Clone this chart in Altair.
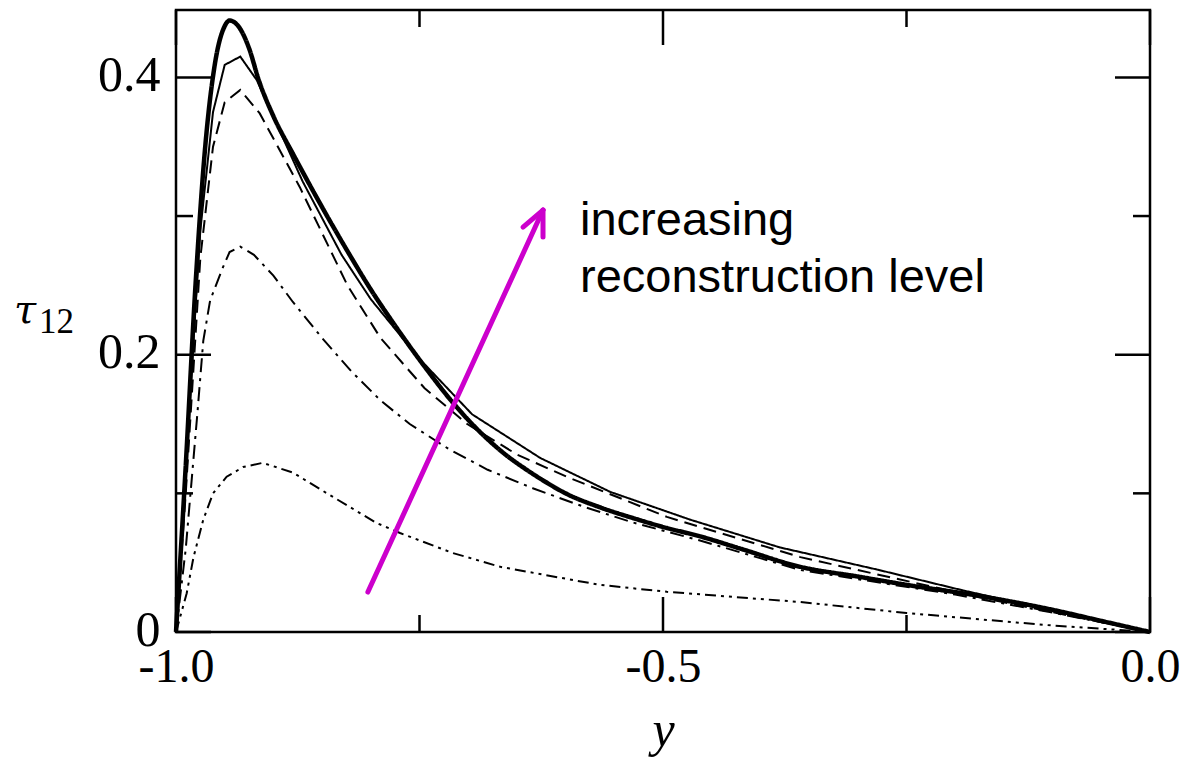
import altair as alt
import pandas as pd

# ---- data ----
thick_x = [-1.0, -0.99, -0.98, -0.97, -0.96, -0.95, -0.945, -0.935, -0.925, -0.915, -0.90, -0.88,
           -0.86, -0.84, -0.82, -0.80, -0.78, -0.76, -0.74, -0.72, -0.70, -0.68, -0.66, -0.64,
           -0.62, -0.60, -0.565, -0.53, -0.496, -0.462, -0.42, -0.359, -0.30, -0.25, -0.175,
           -0.10, -0.05, 0.0]
thick_y = [0.0, 0.12, 0.25, 0.35, 0.41, 0.437, 0.441, 0.436, 0.421, 0.398, 0.372, 0.345,
           0.319, 0.294, 0.270, 0.247, 0.226, 0.206, 0.187, 0.169, 0.153, 0.139, 0.127, 0.117,
           0.108, 0.100, 0.090, 0.082, 0.075, 0.069, 0.060, 0.047, 0.040, 0.034, 0.026,
           0.016, 0.008, 0.0]

thin_x = [-1.0, -0.99, -0.975, -0.962, -0.95, -0.934, -0.917, -0.87, -0.83, -0.80, -0.75, -0.696,
          -0.626, -0.554, -0.472, -0.38, -0.28, -0.192, -0.10, 0.0]
thin_y = [0.0, 0.12, 0.29, 0.375, 0.409, 0.415, 0.398, 0.325, 0.272, 0.240, 0.197, 0.157,
          0.1255, 0.101, 0.081, 0.061, 0.045, 0.030, 0.0155, 0.0]

dash_x = [-1.0, -0.99, -0.975, -0.962, -0.95, -0.934, -0.914, -0.873, -0.824, -0.79, -0.745, -0.701,
          -0.65, -0.599, -0.496, -0.359, -0.175, 0.0]
dash_y = [0.0, 0.10, 0.27, 0.35, 0.382, 0.391, 0.374, 0.321, 0.250, 0.212, 0.176, 0.150,
          0.128, 0.112, 0.083, 0.054, 0.025, 0.0]

dd_x = [-1.0, -0.99, -0.978, -0.972, -0.965, -0.953, -0.945, -0.934, -0.92, -0.90, -0.88, -0.85,
        -0.82, -0.79, -0.76, -0.72, -0.68, -0.633, -0.58, -0.531, -0.462, -0.359, -0.2, -0.1, 0.0]
dd_y = [0.0, 0.06, 0.158, 0.21, 0.239, 0.261, 0.274, 0.278, 0.272, 0.257, 0.238, 0.212,
        0.188, 0.167, 0.150, 0.132, 0.117, 0.1035, 0.090, 0.079, 0.066, 0.0447, 0.027, 0.014, 0.0]

ddd_x = [-1.0, -0.989, -0.982, -0.972, -0.962, -0.948, -0.931, -0.911, -0.88, -0.845, -0.794, -0.77,
         -0.716, -0.667, -0.565, -0.496, -0.359, -0.25, -0.106, 0.0]
ddd_y = [0.0, 0.028, 0.054, 0.081, 0.100, 0.112, 0.119, 0.122, 0.115, 0.100, 0.0786, 0.0714,
         0.057, 0.047, 0.034, 0.029, 0.0216, 0.0137, 0.005, 0.0]

x_major_ticks = [-1.0, -0.5, 0.0]
x_minor_ticks = [-0.75, -0.25]
x_tick_labels = ["-1.0", "-0.5", "0.0"]
y_major_ticks = [0.0, 0.2, 0.4]
y_minor_ticks = [0.1, 0.3]
y_tick_labels = ["0", "0.2", "0.4"]

# annotation arrow (data coordinates): shaft start, tip, two head wings
arrow_start = (-0.803, 0.0288)
arrow_tip = (-0.6232, 0.3043)
arrow_wing_left = (-0.6437, 0.292)
arrow_wing_right = (-0.6232, 0.2848)
annot_lines = ["increasing", "reconstruction level"]
annot_x = -0.5852
annot_y = [0.2862, 0.2451]

# ---- chart ----
W, H = 974, 622
XDOM = [-1.0, 0.0]
YDOM = [0.0, 0.4486]
xs = alt.Scale(domain=XDOM, nice=False, zero=False)
ys = alt.Scale(domain=YDOM, nice=False, zero=False)


def lbl_expr(vals, labels):
    expr = "''"
    for v, l in zip(vals, labels):
        expr = f"abs(datum.value - ({v})) < 1e-9 ? '{l}' : " + expr
    return expr


x_axis = alt.Axis(values=x_major_ticks, labelExpr=lbl_expr(x_major_ticks, x_tick_labels),
                  ticks=False, domain=False, grid=False, labelFlush=False, labelOverlap=False,
                  labelFont="Liberation Serif", labelFontSize=48, labelColor="black",
                  labelPadding=11, title="y", titleFont="Liberation Serif", titleFontStyle="italic",
                  titleFontWeight="normal", titleFontSize=50, titleColor="black",
                  titleBaseline="alphabetic", titleY=113)
y_axis = alt.Axis(values=y_major_ticks, labelExpr=lbl_expr(y_major_ticks, y_tick_labels),
                  ticks=False, domain=False, grid=False, labelFlush=False, labelOverlap=False,
                  labelFont="Liberation Serif", labelFontSize=50, labelColor="black",
                  labelPadding=16, labelOffset=-2, title=None)


def X(field):
    return alt.X(field, type="quantitative", scale=xs, axis=x_axis)


def Y(field):
    return alt.Y(field, type="quantitative", scale=ys, axis=y_axis)


series = [
    (thick_x, thick_y, 4.5, [1, 0], "monotone"),
    (thin_x, thin_y, 2.0, [1, 0], "linear"),
    (dash_x, dash_y, 2.0, [13, 7], "linear"),
    (dd_x, dd_y, 2.0, [14, 6, 3, 6], "linear"),
    (ddd_x, ddd_y, 2.0, [11, 5, 3, 5, 3, 5], "linear"),
]

layers = []
for sx, sy, sw, dash, interp in series:
    df = pd.DataFrame({"x": sx, "t": sy})
    layers.append(alt.Chart(df).mark_line(color="black", strokeWidth=sw, strokeDash=dash,
                                           interpolate=interp, strokeCap="butt").encode(
        x=X("x"), y=Y("t")))

# tick marks (inward, on all four sides)
for vals, L in [(x_major_ticks, 35), (x_minor_ticks, 17)]:
    d = pd.DataFrame({"v": vals})
    layers.append(alt.Chart(d).mark_rule(color="black", strokeWidth=2.5).encode(
        x=X("v"), y=alt.value(H), y2=alt.value(H - L)))
    layers.append(alt.Chart(d).mark_rule(color="black", strokeWidth=2.5).encode(
        x=X("v"), y=alt.value(0), y2=alt.value(L)))
for vals, L in [(y_major_ticks, 35), (y_minor_ticks, 17)]:
    d = pd.DataFrame({"v": vals})
    layers.append(alt.Chart(d).mark_rule(color="black", strokeWidth=2.5).encode(
        y=Y("v"), x=alt.value(0), x2=alt.value(L)))
    layers.append(alt.Chart(d).mark_rule(color="black", strokeWidth=2.5).encode(
        y=Y("v"), x=alt.value(W), x2=alt.value(W - L)))

# magenta arrow
arrow_df = pd.DataFrame({
    "x": [arrow_start[0], arrow_wing_left[0], arrow_wing_right[0]],
    "y": [arrow_start[1], arrow_wing_left[1], arrow_wing_right[1]],
    "x2": [arrow_tip[0]] * 3,
    "y2": [arrow_tip[1]] * 3,
})
layers.append(alt.Chart(arrow_df).mark_rule(color="#cc00cc", strokeWidth=5, strokeCap="round").encode(
    x=X("x"), y=Y("y"), x2="x2:Q", y2="y2:Q"))

# annotation text
annot_df = pd.DataFrame({"x": [annot_x] * 2, "y": annot_y, "s": annot_lines})
layers.append(alt.Chart(annot_df).mark_text(align="left", baseline="alphabetic",
                                             font="Liberation Sans", fontSize=47, color="black").encode(
    x=X("x"), y=Y("y"), text="s:N"))

# y-axis title tau_12
tau_df = pd.DataFrame({"s": ["τ"]})
sub_df = pd.DataFrame({"s": ["12"]})
layers.append(alt.Chart(tau_df).mark_text(align="left", baseline="alphabetic", font="DejaVu Serif",
                                          fontStyle="italic", fontSize=40, color="black").encode(
    x=alt.value(-162), y=alt.value(313), text="s:N"))
layers.append(alt.Chart(sub_df).mark_text(align="left", baseline="alphabetic", font="Liberation Serif",
                                          fontSize=35, color="black").encode(
    x=alt.value(-137), y=alt.value(323), text="s:N"))

chart = alt.layer(*layers).properties(
    width=W, height=H,
    background="white",
    padding={"left": 176, "top": 10, "right": 39, "bottom": 128},
    autosize=alt.AutoSizeParams(type="none"),
).configure_view(stroke="black", strokeWidth=2.5)

chart.save("out.html", embed_options={"renderer": "svg", "actions": False})
